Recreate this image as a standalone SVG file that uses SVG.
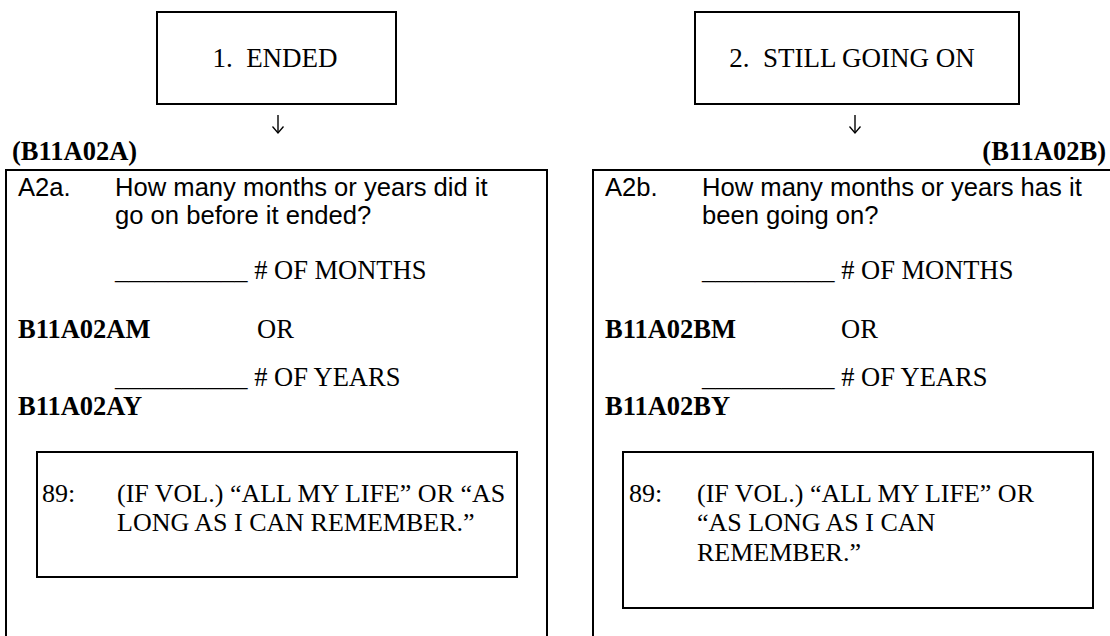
<svg xmlns="http://www.w3.org/2000/svg" width="1110" height="636" viewBox="0 0 1110 636">
<style>
.box{fill:none;stroke:#000;stroke-width:2}
.tt{font-family:"Liberation Serif","Times New Roman",serif;font-size:27px;fill:#000;white-space:pre}
.tr{font-family:"Liberation Serif","Times New Roman",serif;font-size:26.5px;fill:#000;white-space:pre}
.tb{font-family:"Liberation Serif","Times New Roman",serif;font-size:26.5px;font-weight:bold;fill:#000}
.ar{font-family:"Liberation Sans",Arial,sans-serif;font-size:25.6px;fill:#000}
.in{font-family:"Liberation Serif","Times New Roman",serif;font-size:26px;fill:#000;white-space:pre}
.conn{fill:none;stroke:#000;stroke-width:1.4}
</style>
<defs>
<marker id="head" viewBox="0 0 12 8" refX="6" refY="7" markerWidth="12" markerHeight="8" markerUnits="userSpaceOnUse" orient="0">
<path d="M0.5,0.5 L6,7 L11.5,0.5" fill="none" stroke="#000" stroke-width="1.3"/>
</marker>
</defs>
<rect width="1110" height="636" fill="#fff"/>
<g id="ended">
<rect class="box" x="157" y="12" width="239" height="92"/>
<text class="tt" x="275" y="67" text-anchor="middle">1.  ENDED</text>
</g>
<g id="still-going-on">
<rect class="box" x="695" y="12" width="324" height="92"/>
<text class="tt" x="852" y="67" text-anchor="middle">2.  STILL GOING ON</text>
</g>
<g id="connectors">
<path class="conn" d="M278,115 L278,133" marker-end="url(#head)"/>
<path class="conn" d="M855,115 L855,133" marker-end="url(#head)"/>
</g>
<g id="question-a2a">
<text class="tb" x="12" y="160">(B11A02A)</text>
<rect class="box" x="6" y="170" width="541" height="480"/>
<text class="ar" x="18" y="196">A2a.</text>
<text class="ar" x="115" y="196">How many months or years did it</text>
<text class="ar" x="115" y="224">go on before it ended?</text>
<text class="tr" x="115" y="279">__________ # OF MONTHS</text>
<text class="tb" x="18" y="338">B11A02AM</text>
<text class="tr" x="257" y="338">OR</text>
<text class="tr" x="115" y="386">__________ # OF YEARS</text>
<text class="tb" x="18" y="415">B11A02AY</text>
</g>
<g id="vol-a2a">
<rect class="box" x="37" y="452" width="480" height="125"/>
<text class="in" x="42" y="502">89:</text>
<text class="in" x="117" y="502">(IF VOL.) “ALL MY LIFE” OR “AS</text>
<text class="in" x="117" y="531">LONG AS I CAN REMEMBER.”</text>
</g>
<g id="question-a2b">
<text class="tb" x="1106" y="160" text-anchor="end">(B11A02B)</text>
<rect class="box" x="593" y="170" width="540" height="480"/>
<text class="ar" x="605" y="196">A2b.</text>
<text class="ar" x="702" y="196">How many months or years has it</text>
<text class="ar" x="702" y="224">been going on?</text>
<text class="tr" x="702" y="279">__________ # OF MONTHS</text>
<text class="tb" x="605" y="338">B11A02BM</text>
<text class="tr" x="841" y="338">OR</text>
<text class="tr" x="702" y="386">__________ # OF YEARS</text>
<text class="tb" x="605" y="415">B11A02BY</text>
</g>
<g id="vol-a2b">
<rect class="box" x="623" y="452" width="470" height="156"/>
<text class="in" x="629" y="502">89:</text>
<text class="in" x="697" y="502">(IF VOL.) “ALL MY LIFE” OR</text>
<text class="in" x="697" y="531">“AS LONG AS I CAN</text>
<text class="in" x="697" y="561">REMEMBER.”</text>
</g>
</svg>
